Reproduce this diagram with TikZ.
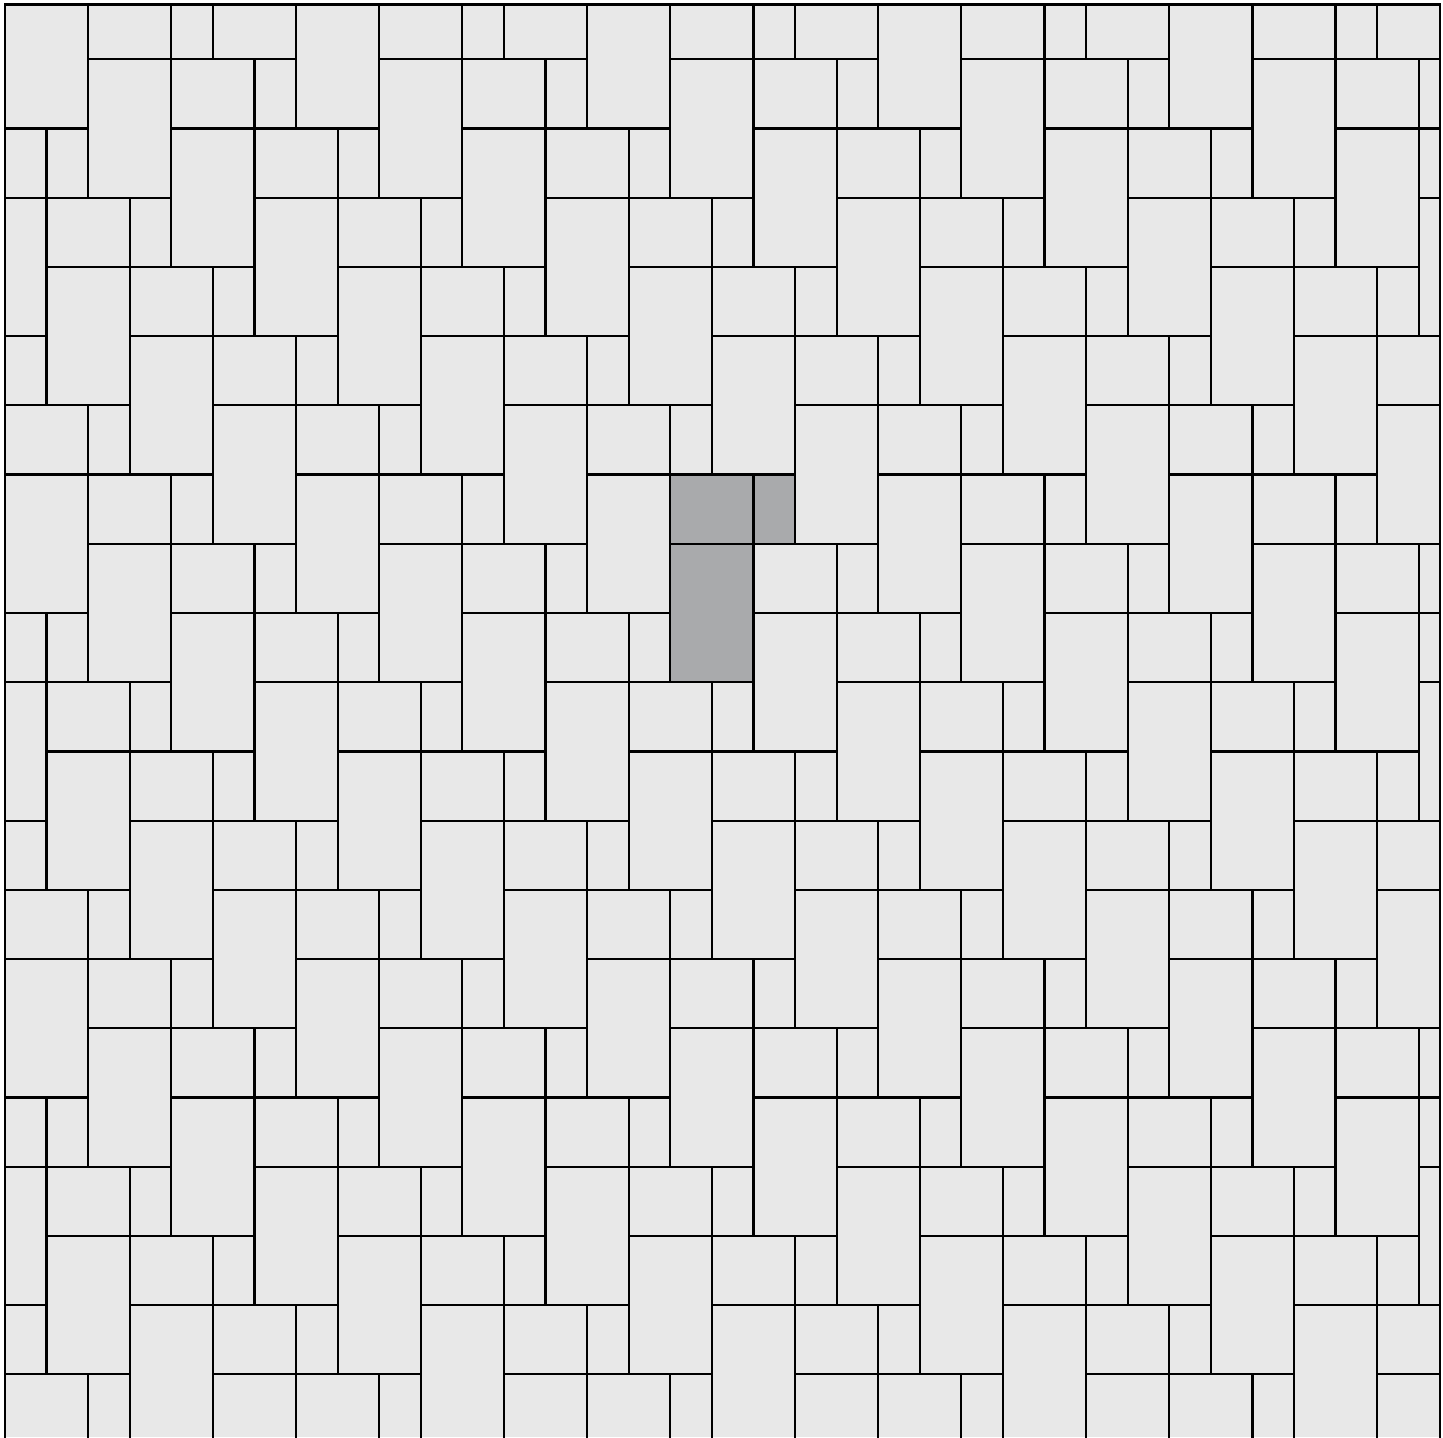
\documentclass[tikz,border=0pt]{standalone}
\definecolor{tilegray}{HTML}{E8E8E8}
\definecolor{hilite}{HTML}{A9AAAC}
\begin{document}
\begin{tikzpicture}[x=0.5pt,y=-0.5pt,
  tileedge/.style={draw=black, line width=1.1pt, line join=miter, line cap=rect}]
\useasboundingbox (0,0) rectangle (1443,1437);
\fill[white] (0,0) rectangle (1443,1437);
\begin{scope}
  \clip (5,4.5) rectangle (1440,1437);
  \fill[tilegray] (5,4.5) rectangle (1440,1437);
  \begin{scope}[shift={(5,-9.9)}, x=20.79pt, y=-34.605pt]
    % highlighted group (fills)
    \fill[hilite] (16,7) rectangle (19,8);
    \fill[hilite] (16,8) rectangle (18,10);
    % tile edges: left and top edge of every tile, so each joint is drawn once
    \foreach \a in {-2,...,19} {
      \foreach \b in {-7,...,6} {
        \pgfmathtruncatemacro{\ci}{2*\a+\b}
        \pgfmathtruncatemacro{\cj}{\a-3*\b}
        \draw[tileedge] (\ci,\cj+2) -- (\ci,\cj) -- (\ci+2,\cj);
        \draw[tileedge] (\ci,\cj) -- (\ci,\cj-1) -- (\ci+2,\cj-1);
        \draw[tileedge] (\ci+2,\cj) -- (\ci+2,\cj-1) -- (\ci+3,\cj-1);
      }
    }
  \end{scope}
\end{scope}
\begin{scope}
  \clip (0,0) rectangle (1443,1437);
  \draw[line width=1.2pt] (5,1450) -- (5,4.5) -- (1440,4.5) -- (1440,1450);
\end{scope}
\end{tikzpicture}
\end{document}
